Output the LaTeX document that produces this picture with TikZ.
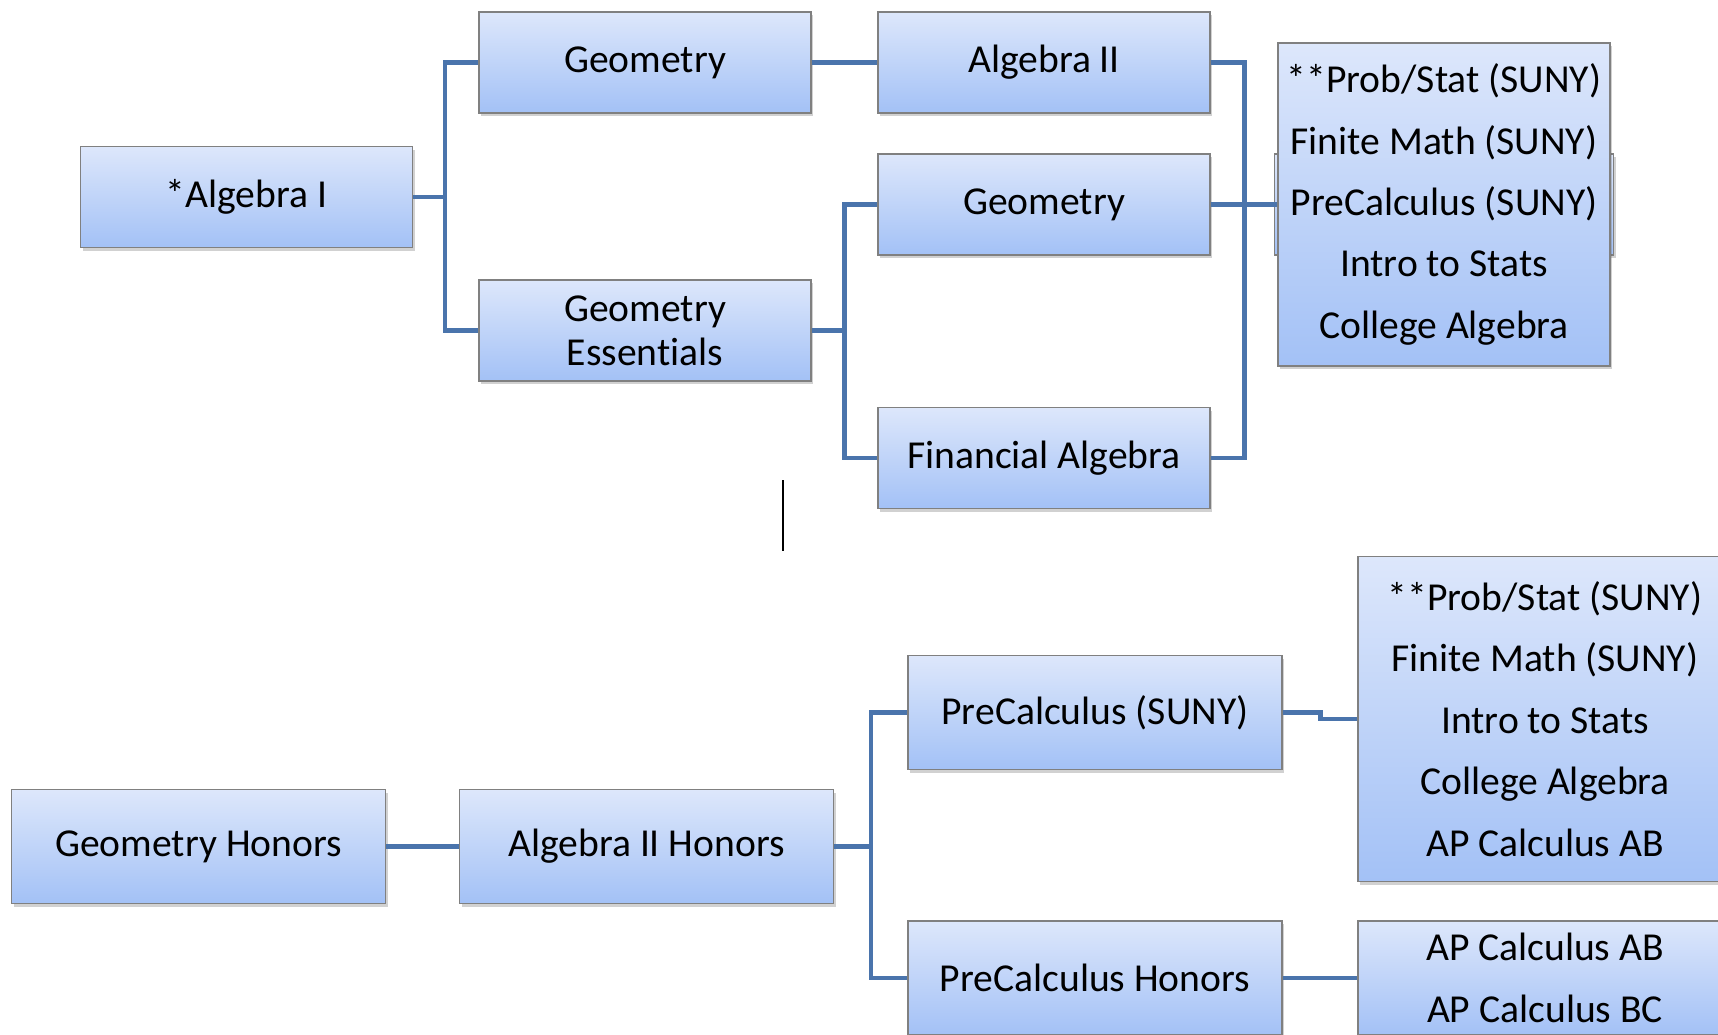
\documentclass[tikz,border=0pt]{standalone}
\usepackage{fontspec}
\setmainfont{Carlito}[Ligatures=NoCommon]
\usetikzlibrary{calc,shadows}

\definecolor{boxtop}{HTML}{DDE7FB}
\definecolor{boxbottom}{HTML}{A3C1F6}
\definecolor{boxedge}{HTML}{808080}
\definecolor{linkblue}{HTML}{4A74AC}

\tikzset{
    course/.style={draw=boxedge, line width=0.6pt, top color=boxtop, bottom color=boxbottom,
        minimum width=166pt, minimum height=50.5pt, inner sep=0pt, align=center,
        font=\fontsize{19.8}{22}\selectfont,
        drop shadow={shadow xshift=1pt, shadow yshift=-1.6pt, opacity=0.3, fill=black!60}},
    honors/.style={course, minimum width=187pt, minimum height=57pt},
    options/.style={course, font=\fontsize{19.8}{30.7}\selectfont},
    link/.style={draw=linkblue, line width=2.2pt},
}

\begin{document}
\begin{tikzpicture}[x=0.5pt, y=-0.5pt]
    \useasboundingbox (0,0) rectangle (1718,1034);
    \clip (0,0) rectangle (1718,1034);

    % Define the regular track
    \node[course] (alg1) at (246.5,197) {*Algebra I};
    \node[course] (geo1) at (645,62.5) {Geometry};
    \node[course] (ess) at (645,330.5) {Geometry\\Essentials};
    \node[course] (alg2) at (1044,62.5) {Algebra II};
    \node[course] (geo2) at (1044,204.5) {Geometry};
    \node[course] (fin) at (1044,458) {Financial Algebra};
    \node[course, minimum width=169.5pt] (ghost) at (1444,204.5) {};
    \node[options, minimum height=161.5pt] (list1) at (1444,204.5)
        {**Prob/Stat (SUNY)\\Finite Math (SUNY)\\PreCalculus (SUNY)\\Intro to Stats\\College Algebra};

    % Draw the regular track links
    \coordinate (j1) at ($(alg1.east)+(32,0)$);
    \coordinate (j2) at ($(ess.east)+(33,0)$);
    \coordinate (j3) at ($(geo2.east)+(34,0)$);
    \draw[link] (alg1.east) -- (j1) |- (geo1.west);
    \draw[link] (j1) |- (ess.west);
    \draw[link] (geo1.east) -- (alg2.west);
    \draw[link] (ess.east) -- (j2) |- (geo2.west);
    \draw[link] (j2) |- (fin.west);
    \draw[link] (alg2.east) -| (j3) |- (fin.east);
    \draw[link] (geo2.east) -- (list1.west);

    % Stray mark between the two tracks
    \coordinate (tickA) at (783,480);
    \coordinate (tickB) at (783,551);
    \draw[line width=0.8pt] (tickA) -- (tickB);

    % Define the honors track
    \node[honors] (geoh) at (198.5,846.5) {Geometry Honors};
    \node[honors] (alg2h) at (646.5,846.5) {Algebra II Honors};
    \node[honors] (pcs) at (1095,712.5) {PreCalculus (SUNY)};
    \node[honors] (pch) at (1095,978) {PreCalculus Honors};
    \node[options, minimum width=187pt, minimum height=162.5pt] (list2) at (1545,719)
        {**Prob/Stat (SUNY)\\Finite Math (SUNY)\\Intro to Stats\\College Algebra\\AP Calculus AB};
    \node[options, minimum width=187pt, minimum height=57pt] (list3) at (1545,978)
        {AP Calculus AB\\AP Calculus BC};

    % Draw the honors track links
    \coordinate (j4) at ($(alg2h.east)+(37,0)$);
    \draw[link] (geoh.east) -- (alg2h.west);
    \draw[link] (alg2h.east) -- (j4) |- (pcs.west);
    \draw[link] (j4) |- (pch.west);
    \draw[link] (pcs.east) -- ++(38,0) |- (list2.west);
    \draw[link] (pch.east) -- (list3.west);

\end{tikzpicture}
\end{document}
